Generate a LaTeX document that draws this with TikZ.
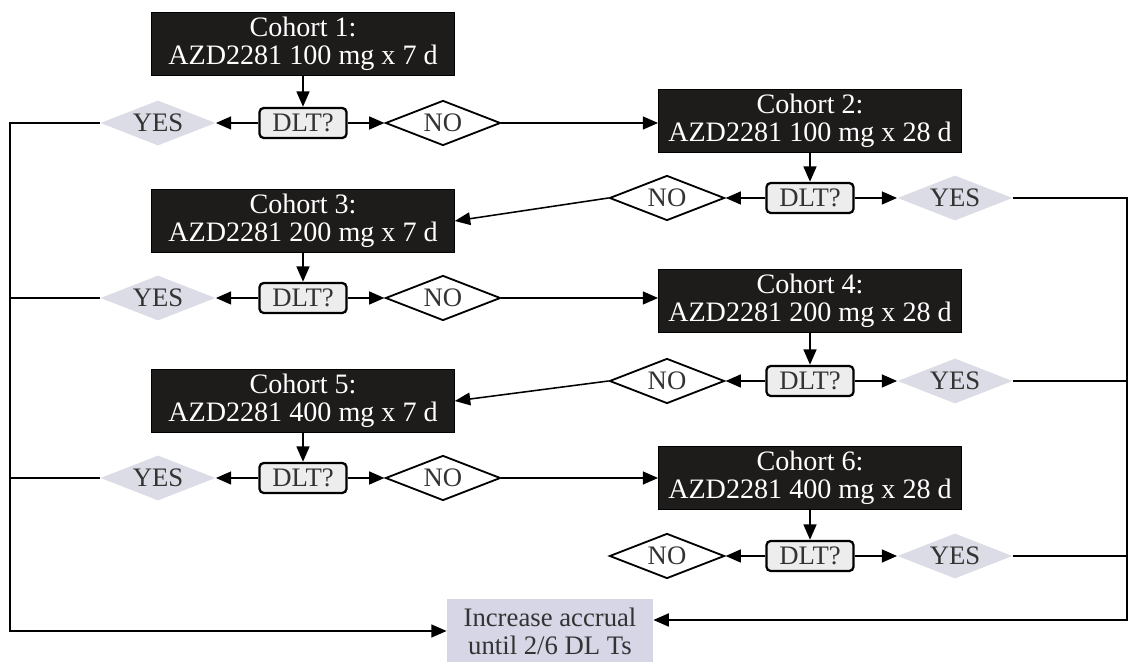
\documentclass[tikz,border=0pt]{standalone}
\usepackage{fontspec}
\setmainfont{Liberation Serif}
\usepackage{tikz}
\usetikzlibrary{positioning, arrows.meta, shapes.geometric}

\definecolor{cohortbg}{HTML}{1E1B1B}
\definecolor{dltbg}{HTML}{EDEDED}
\definecolor{yesbg}{HTML}{DCDCE6}
\definecolor{incbg}{HTML}{D6D6E6}
\definecolor{txtgray}{HTML}{333333}

\begin{document}
\begin{tikzpicture}[
    cohort/.style={draw=black, fill=cohortbg, rectangle, minimum width=7.575cm, minimum height=1.575cm,
        inner sep=0pt, align=center, text=white, font=\fontsize{20}{20}\selectfont},
    dlt/.style={draw, line width=1.6pt, fill=dltbg, rectangle, rounded corners=3pt, minimum width=2.175cm,
        minimum height=0.75cm, inner sep=0pt, text=txtgray, font=\fontsize{19}{19}\selectfont},
    yes/.style={diamond, fill=yesbg, aspect=2.55, minimum width=2.875cm, minimum height=1.125cm,
        inner sep=0pt, text=txtgray, font=\fontsize{19}{19}\selectfont},
    no/.style={diamond, draw, line width=1.3pt, fill=white, aspect=2.55, minimum width=2.875cm,
        minimum height=1.125cm, inner sep=0pt, text=txtgray, font=\fontsize{19}{19}\selectfont},
    incr/.style={fill=incbg, rectangle, minimum width=5.15cm, minimum height=1.575cm, inner sep=0pt,
        align=center, text=txtgray, font=\fontsize{19}{20}\selectfont},
    link/.style={line width=1.9pt},
    arr/.style={line width=1.9pt, -{Triangle[length=11pt, width=9pt]}},
    thinarr/.style={line width=1.1pt, -{Triangle[length=11pt, width=9pt]}},
]
\useasboundingbox (0,0) rectangle (28.25,16.575);

% cohorts
\node[cohort] (c1) at (7.575, 15.475) {Cohort 1:\\AZD2281 100 mg x 7 d};
\node[cohort] (c2) at (20.25, 13.55) {Cohort 2:\\AZD2281 100 mg x 28 d};
\node[cohort] (c3) at (7.575, 11.05) {Cohort 3:\\AZD2281 200 mg x 7 d};
\node[cohort] (c4) at (20.25, 9.05) {Cohort 4:\\AZD2281 200 mg x 28 d};
\node[cohort] (c5) at (7.575, 6.55) {Cohort 5:\\AZD2281 400 mg x 7 d};
\node[cohort] (c6) at (20.25, 4.625) {Cohort 6:\\AZD2281 400 mg x 28 d};

% decisions, left column
\node[dlt] (d1) at (7.575, 13.5) {DLT?};
\node[yes] (y1) at (3.95, 13.5) {YES};
\node[no] (n1) at (11.075, 13.5) {NO};
\node[dlt] (d3) at (7.575, 9.125) {DLT?};
\node[yes] (y3) at (3.95, 9.125) {YES};
\node[no] (n3) at (11.075, 9.125) {NO};
\node[dlt] (d5) at (7.575, 4.625) {DLT?};
\node[yes] (y5) at (3.95, 4.625) {YES};
\node[no] (n5) at (11.075, 4.625) {NO};

% decisions, right column
\node[dlt] (d2) at (20.25, 11.625) {DLT?};
\node[no] (n2) at (16.675, 11.625) {NO};
\node[yes] (y2) at (23.875, 11.625) {YES};
\node[dlt] (d4) at (20.25, 7.05) {DLT?};
\node[no] (n4) at (16.675, 7.05) {NO};
\node[yes] (y4) at (23.875, 7.05) {YES};
\node[dlt] (d6) at (20.25, 2.675) {DLT?};
\node[no] (n6) at (16.675, 2.675) {NO};
\node[yes] (y6) at (23.875, 2.675) {YES};

\node[incr] (inc) at (13.75, 0.8) {Increase accrual\\until 2/6 DL Ts};

\coordinate (lbot) at (0.25, 0.8);
\coordinate (rbot) at (28.175, 1.075);

% cohort to DLT
\foreach \i in {1,...,6}
    \draw[arr] (c\i) -- (d\i);

% DLT to YES / NO
\foreach \i in {1,...,6} {
    \draw[arr] (d\i) -- (y\i);
    \draw[arr] (d\i) -- (n\i);
}

% NO to next cohort
\draw[arr] (n1.east) -- (n1.east -| c2.west);
\draw[thinarr] (n2.west) -- (c3.east);
\draw[arr] (n3.east) -- (n3.east -| c4.west);
\draw[thinarr] (n4.west) -- (c5.east);
\draw[arr] (n5.east) -- (n5.east -| c6.west);

% YES to increase accrual
\draw[arr] (y1.west) -| (lbot) -- (inc.west);
\draw[link] (y3.west) -- (y3.west -| lbot);
\draw[link] (y5.west) -- (y5.west -| lbot);
\draw[arr] (y2.east) -| (rbot) -- (inc.east |- rbot);
\draw[link] (y4.east) -- (y4.east -| rbot);
\draw[link] (y6.east) -- (y6.east -| rbot);
\end{tikzpicture}
\end{document}
